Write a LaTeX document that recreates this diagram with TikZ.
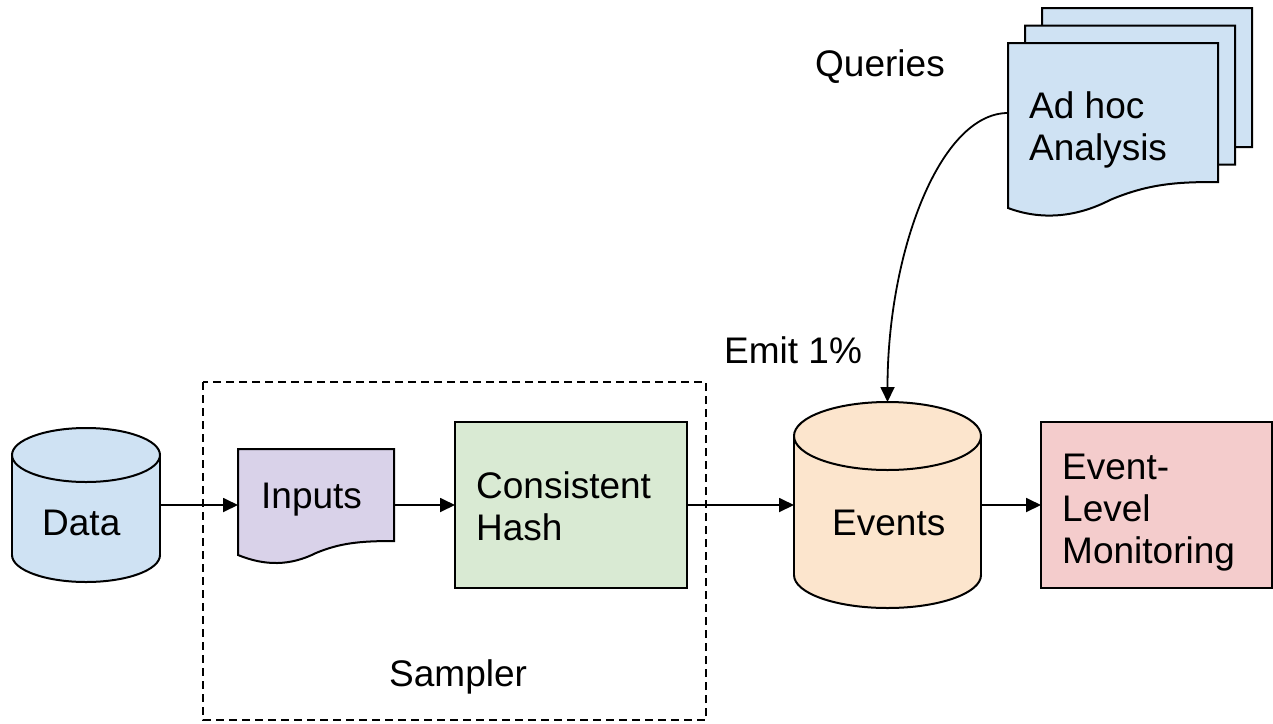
\documentclass[tikz,border=0pt]{standalone}
\usepackage{fontspec}
\setmainfont{Liberation Sans}
\usetikzlibrary{arrows.meta}
\definecolor{cblue}{RGB}{207,226,243}
\definecolor{cpurple}{RGB}{217,210,233}
\definecolor{cgreen}{RGB}{217,234,211}
\definecolor{corange}{RGB}{252,229,205}
\definecolor{cred}{RGB}{244,204,204}
\tikzset{
  shapeline/.style={draw=black, line width=2pt, line join=miter},
  anchorbox/.style={inner sep=0pt, outer sep=0pt},
  boxnode/.style={shapeline, inner sep=0pt, outer sep=0pt},
  arr/.style={line width=1.8pt, -{Triangle[length=15pt,width=14pt]}},
  lbl/.style={anchor=base west, inner sep=0pt, font=\fontsize{37}{42}\selectfont, align=left},
  sampler/.style={draw=black, line width=1.5pt, dash pattern=on 8pt off 5pt}
}
\begin{document}
\begin{tikzpicture}[x=1pt,y=-1pt]
\useasboundingbox (0,0) rectangle (1273,723);
% Sampler dashed frame
\draw[sampler] (203,382) rectangle (706,720);
\node[lbl] (tsampler) at (389,686) {Sampler};

% Data cylinder
\node[anchorbox, minimum width=148pt, minimum height=154pt] (data) at (86,505) {};
\draw[shapeline, fill=cblue] (86,555) ellipse (74 and 27);
\fill[cblue] (12,455) rectangle (160,555);
\draw[shapeline] (12,455) -- (12,555) (160,455) -- (160,555);
\draw[shapeline, fill=cblue] (86,455) ellipse (74 and 27);
\node[lbl] (tdata) at (42,535) {Data};

% Inputs document
\node[anchorbox, minimum width=156pt, minimum height=100pt] (inputs) at (316,505) {};
\draw[shapeline, fill=cpurple] (238,449) -- (394,449) -- (394,541)
  .. controls (360,541) and (340,543) .. (316,553)
  .. controls (290,566) and (265,566) .. (238,555) -- cycle;
\node[lbl] (tinputs) at (261,508) {Inputs};

% Consistent Hash
\node[boxnode, fill=cgreen, minimum width=232pt, minimum height=166pt] (hash) at (571,505) {};
\node[lbl] (thash) at (476,540) {Consistent\\Hash};

% Events cylinder
\node[anchorbox, minimum width=187pt, minimum height=206pt] (events) at (887.5,505) {};
\draw[shapeline, fill=corange] (887.5,575) ellipse (93.5 and 33);
\fill[corange] (794,436) rectangle (981,575);
\draw[shapeline] (794,436) -- (794,575) (981,436) -- (981,575);
\draw[shapeline, fill=corange] (887.5,436) ellipse (93.5 and 34);
\node[lbl] (tevents) at (832,535) {Events};

% Event-Level Monitoring
\node[boxnode, fill=cred, minimum width=231pt, minimum height=166pt] (mon) at (1156.5,505) {};
\node[lbl] (tmon) at (1062,563) {Event-\\Level\\Monitoring};

% Ad hoc Analysis stack
\begin{scope}[shift={(34,-35)}]
\draw[shapeline, fill=cblue] (1008,43) -- (1218,43) -- (1218,182)
  .. controls (1180,182) and (1150,183) .. (1110,200)
  .. controls (1075,218) and (1040,220) .. (1008,208) -- cycle;
\end{scope}
\begin{scope}[shift={(17,-17.5)}]
\draw[shapeline, fill=cblue] (1008,43) -- (1218,43) -- (1218,182)
  .. controls (1180,182) and (1150,183) .. (1110,200)
  .. controls (1075,218) and (1040,220) .. (1008,208) -- cycle;
\end{scope}
\draw[shapeline, fill=cblue] (1008,43) -- (1218,43) -- (1218,182)
  .. controls (1180,182) and (1150,183) .. (1110,200)
  .. controls (1075,218) and (1040,220) .. (1008,208) -- cycle;
\node[anchorbox, minimum width=210pt, minimum height=140pt] (adhoc) at (1113,113) {};
\node[lbl] (tadhoc) at (1029,160) {Ad hoc\\Analysis};

% Free labels
\node[lbl] (tqueries) at (815,76) {Queries};
\node[lbl] (temit) at (724,363) {Emit 1\%};

% Connectors
\draw[arr] (data.east) -- (inputs.west);
\draw[arr] (inputs.east) -- (hash.west);
\draw[arr] (hash.east) -- (events.west);
\draw[arr] (events.east) -- (mon.west);
\draw[arr] (adhoc.west) .. controls +(-68,0) and +(0,-150) .. (events.north);
\end{tikzpicture}
\end{document}
